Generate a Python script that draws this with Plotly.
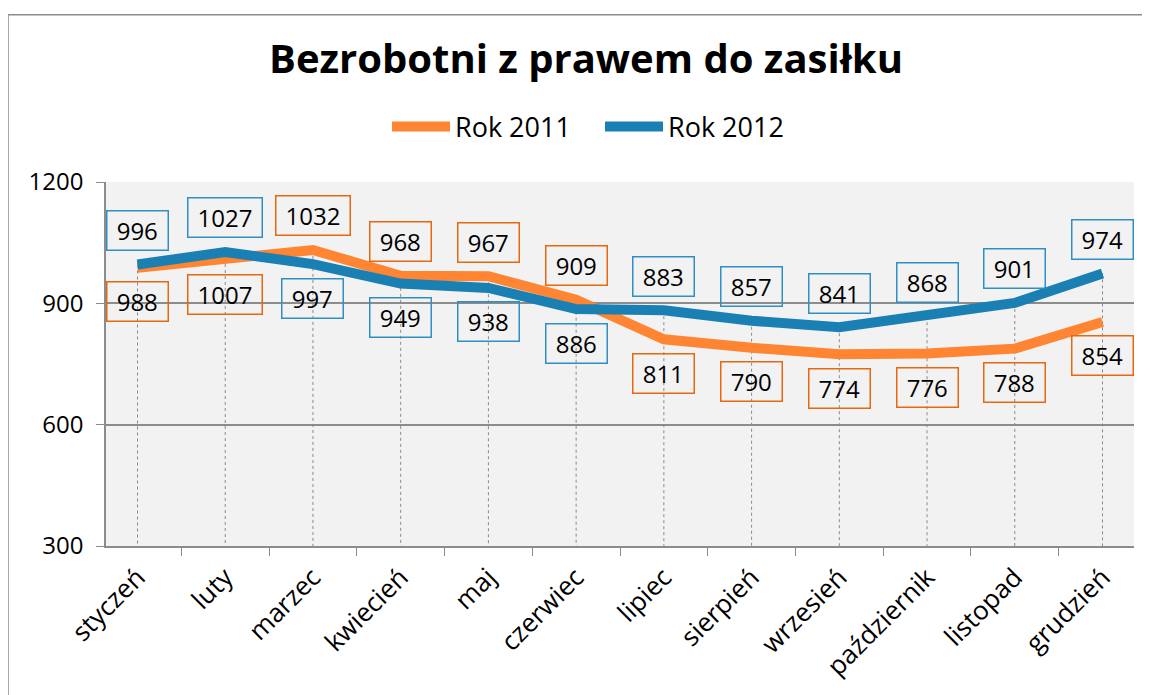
import plotly.graph_objects as go

months = ["styczeń", "luty", "marzec", "kwiecień", "maj", "czerwiec",
          "lipiec", "sierpień", "wrzesień", "październik", "listopad", "grudzień"]
rok_2011 = [988, 1007, 1032, 968, 967, 909, 811, 790, 774, 776, 788, 854]
rok_2012 = [996, 1027, 997, 949, 938, 886, 883, 857, 841, 868, 901, 974]
y_ticks = [300, 600, 900, 1200]

C2011 = "#FF8533"
C2012 = "#1A80B4"
B2011 = "#E8670F"
B2012 = "#2F8EC3"
FONT = "Open Sans"

# the page body has an 8px margin, so the figure is drawn 8px smaller
W, H = 1142, 687
L, R, T, B = 98, 16, 174, 145
PW, PH = W - L - R, H - T - B

fig = go.Figure()

# drop lines from the higher point down to the axis
dx, dy = [], []
for m, a, b in zip(months, rok_2011, rok_2012):
    dx += [m, m, None]
    dy += [max(a, b), y_ticks[0], None]
fig.add_trace(go.Scatter(x=dx, y=dy, mode="lines", showlegend=False, hoverinfo="skip",
                         line=dict(color="#8a8a8a", width=1, dash="dot")))

fig.add_trace(go.Scatter(x=months, y=rok_2011, mode="lines", name="Rok 2011",
                         line=dict(color=C2011, width=10)))
fig.add_trace(go.Scatter(x=months, y=rok_2012, mode="lines", name="Rok 2012",
                         line=dict(color=C2012, width=10)))

for m, a, b in zip(months, rok_2011, rok_2012):
    for val, other, bc in ((a, b, B2011), (b, a, B2012)):
        up = val >= other
        txt = str(val)
        fig.add_annotation(x=m, y=val, text=txt, showarrow=False,
                           yshift=34 if up else -34,
                           width=13.5 * len(txt) + 11, height=30, align="center",
                           font=dict(family=FONT, size=24, color="#000"),
                           bordercolor=bc, borderwidth=1.5, borderpad=4,
                           bgcolor="rgba(0,0,0,0)")

# outer chart border (top and left)
bx = (0 - L) / PW
by = (PH + T - 5) / PH
fig.add_shape(type="line", xref="paper", yref="paper", x0=bx, x1=1.2, y0=by, y1=by,
              line=dict(color="#8c8c8c", width=1.5))
fig.add_shape(type="line", xref="paper", yref="paper", x0=bx, x1=bx, y0=by, y1=-0.6,
              line=dict(color="#8c8c8c", width=1.5))

fig.update_layout(
    width=W, height=H,
    margin=dict(l=L, r=R, t=T, b=B),
    paper_bgcolor="white", plot_bgcolor="#F2F2F2",
    font=dict(family=FONT, size=24, color="#000"),
    title=dict(text="<b>Bezrobotni z prawem do zasiłku</b>", x=(586 - 8) / W, xanchor="center",
               y=1 - (59 - 8) / H, yanchor="middle", xref="container", yref="container",
               font=dict(family=FONT, size=40, color="#000")),
    legend=dict(orientation="h", x=(600 - 8) / W, xref="container", xanchor="center",
                y=1 - (127 - 8) / H, yref="container", yanchor="middle",
                font=dict(family=FONT, size=27), itemwidth=58,
                entrywidth=140, entrywidthmode="pixels",
                bgcolor="rgba(0,0,0,0)"),
    xaxis=dict(type="category", categoryorder="array", categoryarray=months,
               tickangle=-45, ticks="outside", ticklen=8, tickcolor="#8c8c8c",
               tickson="boundaries", showline=True, linecolor="#8c8c8c", linewidth=1.5,
               showgrid=False, ticklabelstandoff=4, tickfont=dict(family=FONT, size=26)),
    yaxis=dict(range=[300, 1200], tickvals=y_ticks, ticks="outside", ticklen=8,
               tickcolor="#8c8c8c", showline=True, linecolor="#8c8c8c", linewidth=1.5,
               showgrid=True, gridcolor="#8c8c8c", gridwidth=1.5, zeroline=False,
               ticklabelstandoff=8, tickfont=dict(family=FONT, size=24)),
    showlegend=True,
)

fig.write_html("out.html")
